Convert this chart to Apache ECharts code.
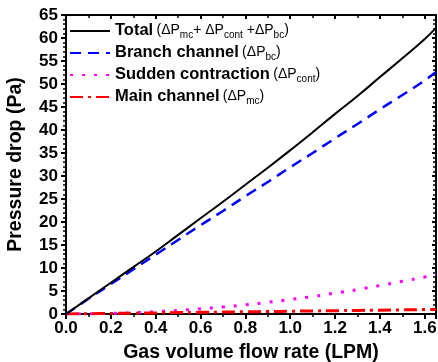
<!DOCTYPE html>
<html>
<head>
<meta charset="utf-8">
<script src="https://cdn.jsdelivr.net/npm/echarts@6/dist/echarts.min.js"></script>
<style>
  html, body { margin: 0; padding: 0; background: #fff; }
  #main { width: 438px; height: 362px; }
</style>
</head>
<body>
<div id="main"></div>
<script>
// flow rate (LPM)
var flowRate = [0, 0.1, 0.2, 0.3, 0.4, 0.5, 0.6, 0.7, 0.8, 0.9, 1.0, 1.1, 1.2, 1.3, 1.4, 1.5, 1.6, 1.65]
// pressure drop (Pa)
var totalDrop = [0, 3.4, 6.8, 10.2, 13.6, 17.2, 20.8, 24.4, 28.1, 31.8, 35.6, 39.5, 43.5, 47.4, 51.5, 55.6, 59.8, 62.2]
var branchDrop = [0, 3.3, 6.5, 9.7, 12.9, 16.1, 19.3, 22.4, 25.6, 28.7, 31.9, 35.0, 38.2, 41.3, 44.5, 47.6, 50.8, 52.6]
var contDrop = [0, 0.03, 0.13, 0.28, 0.5, 0.79, 1.13, 1.54, 2.0, 2.55, 3.15, 3.8, 4.55, 5.3, 6.2, 7.1, 8.05, 8.6]
var mainDrop = [0, 0.06, 0.12, 0.18, 0.24, 0.3, 0.36, 0.42, 0.48, 0.54, 0.6, 0.66, 0.72, 0.78, 0.84, 0.9, 0.96, 1.0]

var seriesNames = ['Total', 'Branch channel', 'Sudden contraction', 'Main channel']
var legendText = {
  'Total': '{b|Total} {n|(ΔP}{s|mc}{n|+ ΔP}{s|cont}{n| +ΔP}{s|bc}{n|)}',
  'Branch channel': '{b|Branch channel} {n|(ΔP}{s|bc}{n|)}',
  'Sudden contraction': '{b|Sudden contraction} {n|(ΔP}{s|cont}{n|)}',
  'Main channel': '{b|Main channel} {n|(ΔP}{s|mc}{n|)}'
}

function pairs (ys) {
  return flowRate.map(function (x, i) { return [x, ys[i]] })
}

var FONT = 'Liberation Sans, Arial, sans-serif'
var chart = echarts.init(document.getElementById('main'))

var axisLine = { show: true, onZero: false, lineStyle: { color: '#000', width: 2 } }

var option = {
  animation: false,
  grid: { left: 66, right: 2, top: 15, bottom: 48, outerBoundsMode: 'none' },
  legend: {
    data: seriesNames,
    orient: 'vertical',
    left: 64,
    top: 17,
    itemWidth: 40,
    itemHeight: 14,
    itemGap: 4,
    itemStyle: { opacity: 0 },
    formatter: function (name) { return legendText[name] },
    textStyle: {
      fontFamily: FONT,
      color: '#000',
      rich: {
        b: { fontSize: 16.5, fontWeight: 'bold', fontFamily: FONT, color: '#000', verticalAlign: 'top', lineHeight: 18 },
        n: { fontSize: 14, fontFamily: FONT, color: '#000', verticalAlign: 'top', lineHeight: 18, padding: [1, 0, 0, 0] },
        s: { fontSize: 10, fontFamily: FONT, color: '#000', verticalAlign: 'bottom', lineHeight: 12, padding: [8, 0, 0, 0] }
      }
    }
  },
  xAxis: [{
    type: 'value',
    min: 0,
    max: 1.65,
    interval: 0.2,
    name: 'Gas volume flow rate (LPM)',
    nameLocation: 'middle',
    nameGap: 29,
    nameTextStyle: { fontFamily: FONT, fontSize: 19.5, fontWeight: 'bold', color: '#000' },
    axisLine: axisLine,
    splitLine: { show: false },
    axisTick: { show: true, inside: false, length: 5, lineStyle: { color: '#000', width: 2 } },
    minorTick: { show: true, splitNumber: 2, length: 3, lineStyle: { color: '#000', width: 1.5 } },
    axisLabel: {
      margin: 6,
      showMaxLabel: false,
      fontFamily: FONT, fontSize: 17, fontWeight: 'bold', color: '#000',
      formatter: function (v) { return v.toFixed(1) }
    }
  }, {
    type: 'value',
    position: 'top',
    min: 0,
    max: 1.65,
    interval: 0.2,
    axisLine: axisLine,
    splitLine: { show: false },
    axisTick: { show: true, inside: true, length: 4, lineStyle: { color: '#000', width: 2 } },
    minorTick: { show: true, splitNumber: 2, length: 3, lineStyle: { color: '#000', width: 1.5 } },
    axisLabel: { show: false }
  }],
  yAxis: [{
    type: 'value',
    min: 0,
    max: 65,
    interval: 5,
    name: 'Pressure drop (Pa)',
    nameLocation: 'middle',
    nameGap: 40,
    nameTextStyle: { fontFamily: FONT, fontSize: 19.5, fontWeight: 'bold', color: '#000' },
    axisLine: axisLine,
    splitLine: { show: false },
    axisTick: { show: true, inside: false, length: 5, lineStyle: { color: '#000', width: 2 } },
    minorTick: { show: true, splitNumber: 5, length: 3, lineStyle: { color: '#000', width: 1.5 } },
    axisLabel: { margin: 8, fontFamily: FONT, fontSize: 17, fontWeight: 'bold', color: '#000' }
  }, {
    type: 'value',
    position: 'right',
    min: 0,
    max: 65,
    interval: 5,
    axisLine: axisLine,
    splitLine: { show: false },
    axisTick: { show: true, inside: true, length: 4, lineStyle: { color: '#000', width: 2 } },
    minorTick: { show: true, splitNumber: 5, length: 3, lineStyle: { color: '#000', width: 1.5 } },
    axisLabel: { show: false }
  }],
  series: [{
    name: 'Total',
    type: 'line',
    data: pairs(totalDrop),
    symbol: 'none',
    smooth: true,
    color: '#000',
    lineStyle: { color: '#000', width: 2 },
    z: 5
  }, {
    name: 'Branch channel',
    type: 'line',
    data: pairs(branchDrop),
    symbol: 'none',
    smooth: true,
    color: '#0000ff',
    lineStyle: { color: '#0000ff', width: 2.5, type: [11, 7] },
    z: 4
  }, {
    name: 'Sudden contraction',
    type: 'line',
    data: pairs(contDrop),
    symbol: 'none',
    smooth: true,
    color: '#ff00ff',
    lineStyle: { color: '#ff00ff', width: 3, type: [3, 9] },
    z: 3
  }, {
    name: 'Main channel',
    type: 'line',
    data: pairs(mainDrop),
    symbol: 'none',
    smooth: true,
    color: '#ff0000',
    lineStyle: { color: '#ff0000', width: 3, type: [13, 5, 3, 5] },
    z: 3
  }]
}

chart.setOption(option)
</script>
</body>
</html>
